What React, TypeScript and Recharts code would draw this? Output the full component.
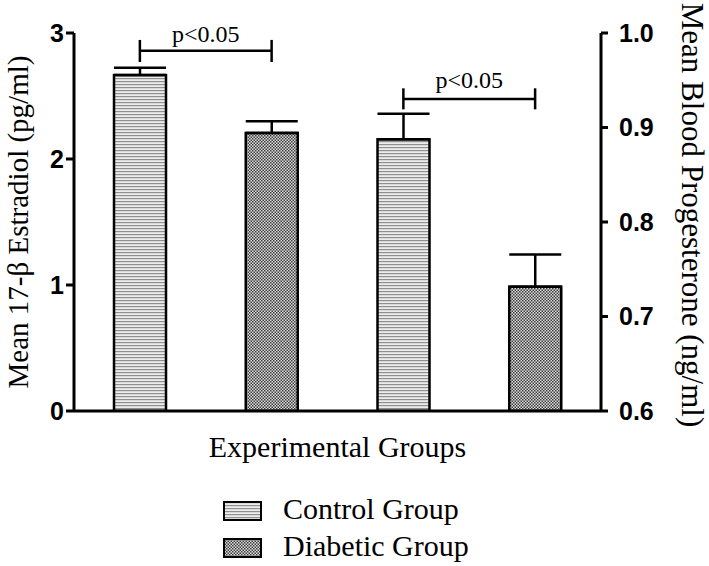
import React from 'react';
import {
  ComposedChart,
  Bar,
  XAxis,
  YAxis,
  ErrorBar,
  ReferenceLine,
} from 'recharts';

const groups = ['Control E2', 'Diabetic E2', 'Control P4', 'Diabetic P4'];
// Estradiol (left axis, pg/ml)
const estradiol = [2.666, 2.207, null, null];
const estradiolErr = [0.058, 0.093, 0, 0];
// Progesterone (right axis, ng/ml)
const progesterone = [null, null, 0.8875, 0.7316];
const progesteroneErr = [0, 0, 0.027, 0.034];
const fills = ['url(#hlines)', 'url(#dots)', 'url(#hlines)', 'url(#dots)'];
const leftTicks = [0, 1, 2, 3];
const rightTicks = [0.6, 0.7, 0.8, 0.9, 1.0];
const legendItems = [
  { name: 'Control Group', fill: 'url(#hlines)' },
  { name: 'Diabetic Group', fill: 'url(#dots)' },
];

const data = groups.map((g, i) => ({
  group: g,
  estradiol: estradiol[i],
  eErr: [0, estradiolErr[i]],
  progesterone: progesterone[i],
  pErr: [0, progesteroneErr[i]],
  fill: fills[i],
}));

const serif = '"Liberation Serif", "Times New Roman", serif';
const sans = '"Liberation Sans", Arial, sans-serif';

const PLabel = ({ viewBox, lift = 9 }: any) => {
  if (!viewBox) return null;
  return (
    <text
      x={viewBox.x + viewBox.width / 2}
      y={viewBox.y - lift}
      textAnchor="middle"
      fontFamily={serif}
      fontSize={24}
      fill="#000"
    >
      p&lt;0.05
    </text>
  );
};

const barShape = (p: any) => (
  <rect x={p.x} y={p.y} width={p.width} height={p.height} fill={p.payload.fill} stroke="#000" strokeWidth={2.5} />
);

export default function App() {
  return (
    <div style={{ position: 'fixed', top: 0, left: 0, width: 709, height: 566, background: '#fff' }}>
      <ComposedChart
        width={709}
        height={566}
        data={data}
        margin={{ top: 33, right: 0, bottom: 0, left: 0 }}
      >
        <defs>
          <pattern id="hlines" width={4} height={3} patternUnits="userSpaceOnUse">
            <rect width={4} height={3} fill="#ececec" />
            <rect width={4} height={1.2} fill="#8f8f8f" />
          </pattern>
          <pattern id="dots" width={3} height={3} patternUnits="userSpaceOnUse">
            <rect width={3} height={3} fill="#dcdcdc" />
            <rect x={0} y={0} width={1.5} height={1.5} fill="#3c3c3c" />
            <rect x={1.5} y={1.5} width={1.5} height={1.5} fill="#3c3c3c" />
          </pattern>
        </defs>
        <XAxis
          xAxisId="a"
          dataKey="group"
          height={155}
          axisLine={{ stroke: '#000', strokeWidth: 3 }}
          tickLine={{ stroke: '#000', strokeWidth: 3 }}
          tickSize={11}
          tick={false}
          label={({ viewBox }: any) => (
            <text
              x={viewBox.x + viewBox.width / 2}
              y={viewBox.y + 46}
              textAnchor="middle"
              fontFamily={serif}
              fontSize={30}
              fill="#000"
            >
              Experimental Groups
            </text>
          )}
        />
        <XAxis xAxisId="b" dataKey="group" hide />
        <YAxis
          yAxisId="left"
          width={74}
          domain={[0, 3]}
          ticks={leftTicks}
          allowDataOverflow
          axisLine={{ stroke: '#000', strokeWidth: 3 }}
          tickLine={{ stroke: '#000', strokeWidth: 3 }}
          tickSize={8}
          tick={{ fontFamily: sans, fontWeight: 'bold', fontSize: 25, fill: '#000' }}
          label={({ viewBox }: any) => (
            <text
              x={0}
              y={0}
              transform={`translate(${viewBox.x + 28}, 222) rotate(-90)`}
              textAnchor="middle"
              fontFamily={serif}
              fontSize={29}
              fill="#000"
            >
              Mean 17-β Estradiol (pg/ml)
            </text>
          )}
        />
        <YAxis
          yAxisId="right"
          orientation="right"
          width={108}
          domain={[0.6, 1.0]}
          ticks={rightTicks}
          allowDataOverflow
          axisLine={{ stroke: '#000', strokeWidth: 3 }}
          tickLine={{ stroke: '#000', strokeWidth: 3 }}
          tickSize={7}
          tickMargin={11}
          tickFormatter={(v: number) => v.toFixed(1)}
          tick={{ fontFamily: sans, fontWeight: 'bold', fontSize: 25, fill: '#000' }}
          label={({ viewBox }: any) => (
            <text
              x={0}
              y={0}
              transform={`translate(${viewBox.x + 81}, 215) rotate(90)`}
              textAnchor="middle"
              fontFamily={serif}
              fontSize={31}
              fill="#000"
            >
              Mean Blood Progesterone (ng/ml)
            </text>
          )}
        />
        <Bar
          xAxisId="a"
          yAxisId="left"
          dataKey="estradiol"
          barSize={52}
          isAnimationActive={false}
          shape={barShape}
        >
          <ErrorBar dataKey="eErr" width={26} stroke="#000" strokeWidth={2.5} direction="y" />
        </Bar>
        <Bar
          xAxisId="b"
          yAxisId="right"
          dataKey="progesterone"
          barSize={52}
          isAnimationActive={false}
          shape={barShape}
        >
          <ErrorBar dataKey="pErr" width={26} stroke="#000" strokeWidth={2.5} direction="y" />
        </Bar>
        {/* significance brackets */}
        <ReferenceLine
          xAxisId="a"
          yAxisId="left"
          segment={[{ x: groups[0], y: 2.86 }, { x: groups[1], y: 2.86 }]}
          stroke="#000"
          strokeWidth={2.5}
          label={<PLabel lift={9} />}
        />
        <ReferenceLine xAxisId="a" yAxisId="left" segment={[{ x: groups[0], y: 2.77 }, { x: groups[0], y: 2.945 }]} stroke="#000" strokeWidth={2.5} />
        <ReferenceLine xAxisId="a" yAxisId="left" segment={[{ x: groups[1], y: 2.77 }, { x: groups[1], y: 2.945 }]} stroke="#000" strokeWidth={2.5} />
        <ReferenceLine
          xAxisId="a"
          yAxisId="left"
          segment={[{ x: groups[2], y: 2.476 }, { x: groups[3], y: 2.476 }]}
          stroke="#000"
          strokeWidth={2.5}
          label={<PLabel lift={11} />}
        />
        <ReferenceLine xAxisId="a" yAxisId="left" segment={[{ x: groups[2], y: 2.394 }, { x: groups[2], y: 2.561 }]} stroke="#000" strokeWidth={2.5} />
        <ReferenceLine xAxisId="a" yAxisId="left" segment={[{ x: groups[3], y: 2.394 }, { x: groups[3], y: 2.561 }]} stroke="#000" strokeWidth={2.5} />
      </ComposedChart>
      <svg width={320} height={80} style={{ position: 'absolute', left: 220, top: 486 }}>
        {legendItems.map((item, i) => (
          <g key={item.name} transform={`translate(0, ${10 + i * 37})`}>
            <rect x={4} y={6} width={37} height={18} fill={item.fill} stroke="#000" strokeWidth={2} />
            <text x={63} y={23} fontFamily={serif} fontSize={30} fill="#000">
              {item.name}
            </text>
          </g>
        ))}
      </svg>
    </div>
  );
}
